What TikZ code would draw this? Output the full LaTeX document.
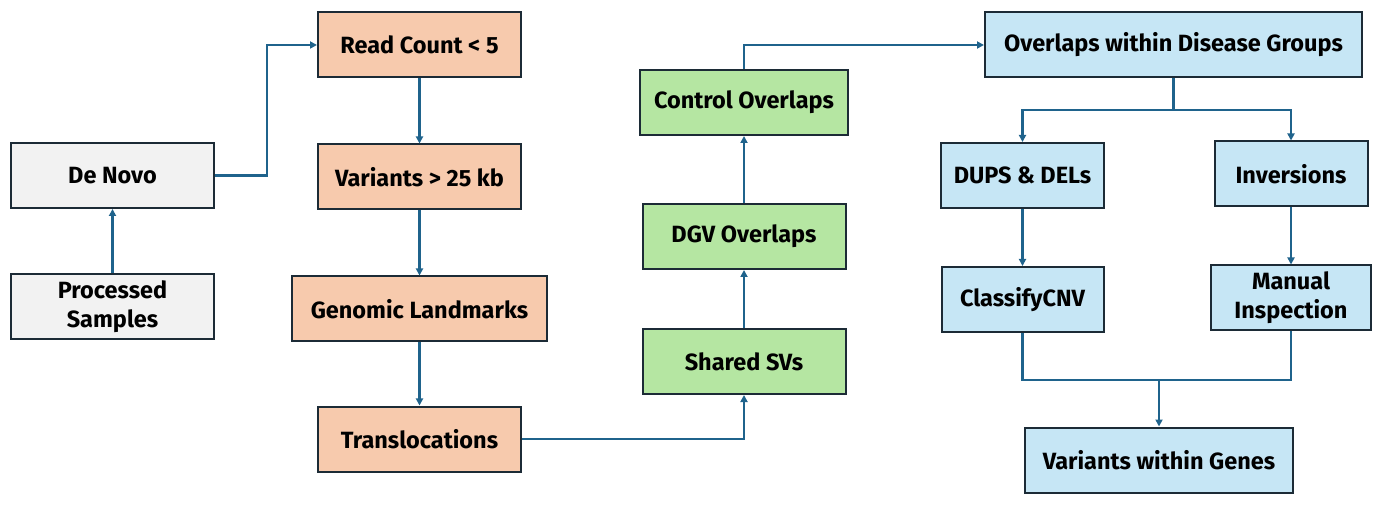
\documentclass[tikz,border=0pt]{standalone}
\usepackage{fontspec}
\setmainfont{Fira Sans}
\usepackage{tikz}
\usetikzlibrary{arrows.meta, positioning, calc}
\usepackage{xcolor}
\definecolor{linecol}{HTML}{1F638C}
\definecolor{boxline}{HTML}{1C2B36}
\definecolor{greyfill}{HTML}{F2F2F2}
\definecolor{orangefill}{HTML}{F7CAAD}
\definecolor{greenfill}{HTML}{B5E6A2}
\definecolor{bluefill}{HTML}{C6E6F5}

\begin{document}
\begin{tikzpicture}[
    x=1pt, y=-1pt,
    node distance=64pt,
    every node/.style={draw=boxline, line width=2pt, align=center, minimum width=203pt, minimum height=65pt, inner sep=2pt, font=\bfseries\fontsize{23.5}{29}\selectfont},
    greybox/.style={fill=greyfill},
    orangebox/.style={fill=orangefill},
    greenbox/.style={fill=greenfill},
    bluebox/.style={fill=bluefill},
    line/.style={draw=linecol, line width=2.3pt},
    arrow/.style={line, -{Triangle[length=7pt, width=7pt]}}
]
\useasboundingbox (0,0) rectangle (1384,510);

% Nodes
\node[greybox] (DN) at (112.5,175.5) {De Novo};
\node[greybox, below=of DN] (PS) {Processed\\Samples};

\node[orangebox] (RC) at (419.5,45) {Read Count < 5};
\node[orangebox, below=65pt of RC] (VA) {Variants > 25 kb};
\node[orangebox, below=65pt of VA, minimum width=255pt] (GL) {Genomic Landmarks};
\node[orangebox, below=63pt of GL] (TR) {Translocations};

\node[greenbox] (SSV) at (744,361.5) {Shared SVs};
\node[greenbox, above=58pt of SSV] (DGV) {DGV Overlaps};
\node[greenbox, above=67pt of DGV, minimum width=208pt] (CO) {Control Overlaps};

\node[bluebox, minimum width=377pt] (OD) at (1173.5,45) {Overlaps within Disease Groups};
\node[bluebox, minimum width=163pt] (DD) at (1022.5,175.5) {DUPS \& DELs};
\node[bluebox, minimum width=153pt] (INV) at (1291,174) {Inversions};
\node[bluebox, minimum width=162pt, below=57pt of DD] (CC) {ClassifyCNV};
\node[bluebox, minimum width=160pt] (MI) at (1291,298) {Manual\\Inspection};
\node[bluebox, minimum width=268pt] (VG) at (1159,460) {Variants within Genes};

\coordinate (split) at (OD.south |- 0,110);
\coordinate (merge) at (VG.north |- 0,380);

% Arrows
\draw[arrow] (PS) -- (DN);
\draw[arrow] (DN.east) -- ++(52,0) |- (RC.west);
\draw[arrow] (RC) -- (VA);
\draw[arrow] (VA) -- (GL);
\draw[arrow] (GL) -- (TR);
\draw[arrow] (TR.east) -| (SSV.south);
\draw[arrow] (SSV) -- (DGV);
\draw[arrow] (DGV) -- (CO);
\draw[arrow] (CO.north) |- (OD.west);
\draw[line] (OD.south) -- (split);
\draw[arrow] (split) -| (DD.north);
\draw[arrow] (split) -| (INV.north);
\draw[arrow] (DD) -- (CC);
\draw[arrow] (INV) -- (MI);
\draw[line] (CC.south) |- (merge) -| (MI.south);
\draw[arrow] (merge) -- (VG);

\end{tikzpicture}
\end{document}
